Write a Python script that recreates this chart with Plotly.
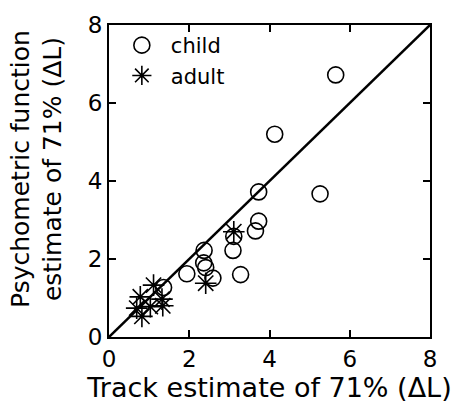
import plotly.graph_objects as go

child_x = [5.65, 4.13, 5.26, 3.73, 3.73, 3.65, 3.11, 3.09, 2.37, 2.36, 2.41, 2.59, 3.28, 1.94, 1.36]
child_y = [6.72, 5.20, 3.67, 3.72, 2.97, 2.72, 2.58, 2.22, 2.22, 1.90, 1.78, 1.51, 1.60, 1.62, 1.27]

adult_x = [3.11, 2.41, 1.11, 0.78, 1.32, 0.69, 1.03, 0.82, 1.34]
adult_y = [2.70, 1.38, 1.33, 1.03, 0.97, 0.74, 0.78, 0.53, 0.80]

diag = [0, 8]
ticks = [0, 2, 4, 6, 8]

FONT = "DejaVu Sans, Verdana, sans-serif"

fig = go.Figure()
fig.add_trace(go.Scatter(x=diag, y=diag, mode="lines", line=dict(color="black", width=2.5),
                         showlegend=False, hoverinfo="skip"))
fig.add_trace(go.Scatter(x=child_x, y=child_y, mode="markers", name="child",
                         marker=dict(symbol="circle-open", size=16, color="black",
                                     line=dict(width=1.6, color="black"))))
fig.add_trace(go.Scatter(x=adult_x, y=adult_y, mode="markers", name="adult",
                         marker=dict(symbol="asterisk-open", size=18, color="black",
                                     line=dict(width=1.6, color="black"))))

axis_common = dict(range=[0, 8], tickvals=ticks, ticks="inside", ticklen=7, tickwidth=2,
                   tickcolor="black", showline=True, linecolor="black", linewidth=2,
                   mirror="ticks", showgrid=False, zeroline=False,
                   tickfont=dict(size=23, color="black", family=FONT))

fig.update_layout(
    width=458, height=408,
    margin=dict(l=109, r=28, t=19, b=70),
    paper_bgcolor="white", plot_bgcolor="white",
    font=dict(family=FONT, color="black"),
    xaxis=dict(**axis_common, title=dict(text="Track estimate of 71% (ΔL)",
                                         font=dict(size=27, family=FONT, color="black"),
                                         standoff=6)),
    yaxis=dict(**axis_common),
    legend=dict(x=0.012, y=1.0, xanchor="left", yanchor="top", bgcolor="rgba(0,0,0,0)",
                font=dict(size=21, family=FONT, color="black"), tracegroupgap=0,
                itemwidth=48),
    showlegend=True,
    annotations=[dict(text="Psychometric function<br>estimate of 71% (ΔL)",
                      textangle=-90, xref="paper", yref="paper",
                      x=-0.226, y=0.54, xanchor="center", yanchor="middle",
                      showarrow=False,
                      font=dict(size=25, family=FONT, color="black"))],
)

fig.write_html("out.html")
